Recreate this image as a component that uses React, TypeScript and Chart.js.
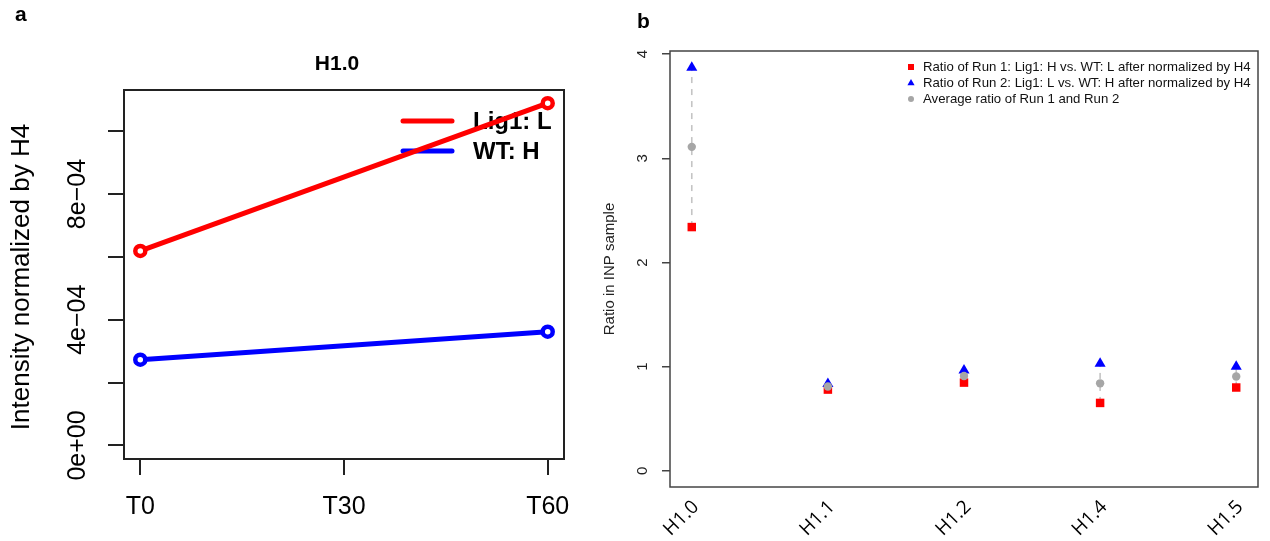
import React, { useEffect, useRef } from 'react';
import { Chart, registerables } from 'chart.js';

Chart.register(...registerables);

// ---------- Panel a data ----------
const timeLabels = ['T0', 'T30', 'T60'];
const timeValues = [0, 30, 60];
const lig1L: (number | null)[] = [6.19e-4, null, 10.89e-4];
const wtH: (number | null)[] = [2.73e-4, null, 3.62e-4];
const intensityTicks = [0, 2e-4, 4e-4, 6e-4, 8e-4, 10e-4];
const intensityTickLabels = ['0e+00', '', '4e\u221204', '', '8e\u221204', ''];
const legendA = ['Lig1: L', 'WT: H'];

// ---------- Panel b data ----------
const histones = ['H1.0', 'H1.1', 'H1.2', 'H1.4', 'H1.5'];
const run1 = [2.34, 0.78, 0.847, 0.652, 0.8];
const run2 = [3.87, 0.835, 0.965, 1.03, 1.0];
const avgRatio = [3.11, 0.81, 0.91, 0.84, 0.905];
const ratioTicks = [0, 1, 2, 3, 4];
const legendB = [
  'Ratio of Run 1: Lig1: H vs. WT: L after normalized by H4',
  'Ratio of Run 2: Lig1: L vs. WT: H after normalized by H4',
  'Average ratio of Run 1 and Run 2',
];

const FONT = '"Liberation Sans", Arial, Helvetica, sans-serif';
const RED = '#ff0000';
const BLUE = '#0000ff';
const GRAY = '#a6a6a6';

function toPoints(vals: (number | null)[]) {
  return timeValues
    .map((t, i) => ({ x: t, y: vals[i] }))
    .filter((p) => p.y !== null) as { x: number; y: number }[];
}

function makeA(canvas: HTMLCanvasElement) {
  const deco = {
    id: 'decoA',
    beforeDatasetsDraw(chart: any) {
      const { ctx } = chart;
      ctx.save();
      const rows = [121, 151];
      const cols = [RED, BLUE];
      rows.forEach((ry, i) => {
        ctx.strokeStyle = cols[i];
        ctx.lineWidth = 5;
        ctx.lineCap = 'round';
        ctx.beginPath();
        ctx.moveTo(403, ry);
        ctx.lineTo(452, ry);
        ctx.stroke();
        ctx.fillStyle = '#000';
        ctx.font = `bold 24px ${FONT}`;
        ctx.textAlign = 'left';
        ctx.textBaseline = 'middle';
        ctx.fillText(legendA[i], 473, ry + 1);
      });
      ctx.restore();
    },
    afterDraw(chart: any) {
      const { ctx, chartArea: a } = chart;
      const x = chart.scales.x;
      const y = chart.scales.y;
      ctx.save();
      ctx.strokeStyle = '#222';
      ctx.lineWidth = 2;
      ctx.strokeRect(a.left, a.top, a.right - a.left, a.bottom - a.top);
      ctx.fillStyle = '#000';
      ctx.font = `25px ${FONT}`;
      ctx.textAlign = 'center';
      ctx.textBaseline = 'middle';
      intensityTicks.forEach((v, i) => {
        const lab = intensityTickLabels[i];
        if (!lab) return;
        const py = y.getPixelForValue(v);
        ctx.save();
        ctx.translate(78, py);
        ctx.rotate(-Math.PI / 2);
        ctx.fillText(lab, 0, 0);
        ctx.restore();
      });
      timeValues.forEach((v, i) => {
        ctx.fillText(timeLabels[i], x.getPixelForValue(v), 507);
      });
      ctx.save();
      ctx.font = `26px ${FONT}`;
      ctx.translate(22, 277);
      ctx.rotate(-Math.PI / 2);
      ctx.fillText('Intensity normalized by H4', 0, 0);
      ctx.restore();
      ctx.font = `bold 21px ${FONT}`;
      ctx.fillText('H1.0', 337, 64);
      ctx.textAlign = 'left';
      ctx.textBaseline = 'alphabetic';
      ctx.fillText('a', 15, 21);
      ctx.restore();
    },
  };

  return new Chart(canvas, {
    type: 'line',
    data: {
      datasets: [
        {
          label: legendA[0],
          data: toPoints(lig1L),
          borderColor: RED,
          borderWidth: 5,
          pointRadius: 5,
          pointBorderWidth: 4.5,
          pointBackgroundColor: '#ffffff',
          pointBorderColor: RED,
          tension: 0,
        },
        {
          label: legendA[1],
          data: toPoints(wtH),
          borderColor: BLUE,
          borderWidth: 5,
          pointRadius: 5,
          pointBorderWidth: 4.5,
          pointBackgroundColor: '#ffffff',
          pointBorderColor: BLUE,
          tension: 0,
        },
      ],
    } as any,
    options: {
      animation: false,
      responsive: false,
      events: [],
      layout: { padding: { left: 124, right: 56, top: 90, bottom: 82 } },
      plugins: { legend: { display: false }, tooltip: { enabled: false }, title: { display: false } },
      scales: {
        x: {
          type: 'linear',
          min: -2.4,
          max: 62.4,
          afterBuildTicks: (s: any) => {
            s.ticks = timeValues.map((v) => ({ value: v }));
          },
          afterFit: (s: any) => {
            s.height = 0;
          },
          grid: { drawOnChartArea: false, drawTicks: true, tickLength: 16, color: '#222', lineWidth: 2 },
          border: { display: false },
          ticks: { display: false },
        },
        y: {
          type: 'linear',
          min: -0.43e-4,
          max: 11.31e-4,
          afterBuildTicks: (s: any) => {
            s.ticks = intensityTicks.map((v) => ({ value: v }));
          },
          afterFit: (s: any) => {
            s.width = 0;
          },
          grid: { drawOnChartArea: false, drawTicks: true, tickLength: 16, color: '#222', lineWidth: 2 },
          border: { display: false },
          ticks: { display: false },
        },
      },
    } as any,
    plugins: [deco],
  });
}

function makeB(canvas: HTMLCanvasElement) {
  const deco = {
    id: 'decoB',
    afterDraw(chart: any) {
      const { ctx, chartArea: a } = chart;
      const x = chart.scales.x;
      const y = chart.scales.y;
      ctx.save();
      ctx.strokeStyle = '#444';
      ctx.lineWidth = 1.5;
      ctx.strokeRect(a.left, a.top, a.right - a.left, a.bottom - a.top);
      ctx.fillStyle = '#222';
      ctx.font = `15px ${FONT}`;
      ctx.textAlign = 'center';
      ctx.textBaseline = 'middle';
      ratioTicks.forEach((v) => {
        ctx.save();
        ctx.translate(53, y.getPixelForValue(v));
        ctx.rotate(-Math.PI / 2);
        ctx.fillText(String(v), 0, 0);
        ctx.restore();
      });
      ctx.save();
      ctx.translate(20, 269);
      ctx.rotate(-Math.PI / 2);
      ctx.fillText('Ratio in INP sample', 0, 0);
      ctx.restore();
      // x labels
      ctx.fillStyle = '#000';
      ctx.font = `19px "Open Sans", ${FONT}`;
      ctx.textAlign = 'right';
      histones.forEach((h, i) => {
        ctx.save();
        ctx.translate(x.getPixelForValue(i) + 4, 504);
        ctx.rotate(-Math.PI / 4);
        ctx.fillText(h, 0, 0);
        ctx.restore();
      });
      // legend
      const mx = 321;
      const tx = 333;
      const rows = [67, 83, 99];
      ctx.fillStyle = RED;
      ctx.fillRect(mx - 3, rows[0] - 3, 6, 6);
      ctx.fillStyle = BLUE;
      ctx.beginPath();
      ctx.moveTo(mx, rows[1] - 4);
      ctx.lineTo(mx + 3.6, rows[1] + 2.2);
      ctx.lineTo(mx - 3.6, rows[1] + 2.2);
      ctx.closePath();
      ctx.fill();
      ctx.fillStyle = GRAY;
      ctx.beginPath();
      ctx.arc(mx, rows[2], 3, 0, Math.PI * 2);
      ctx.fill();
      ctx.fillStyle = '#111';
      ctx.font = `13.2px ${FONT}`;
      ctx.textAlign = 'left';
      legendB.forEach((t, i) => ctx.fillText(t, tx, rows[i] + 0.5));
      // panel letter
      ctx.fillStyle = '#000';
      ctx.font = `bold 21px ${FONT}`;
      ctx.textBaseline = 'alphabetic';
      ctx.fillText('b', 47, 28);
      ctx.restore();
    },
  };

  const dashed = histones.map((h, i) => ({
    type: 'scatter',
    label: 'range ' + h,
    data: [
      { x: i, y: run1[i] },
      { x: i, y: run2[i] },
    ],
    showLine: true,
    borderColor: '#c4c4c4',
    borderWidth: 1.6,
    borderDash: [6, 6],
    pointRadius: 0,
    order: 10,
  }));

  return new Chart(canvas, {
    type: 'scatter',
    data: {
      datasets: [
        {
          label: legendB[2],
          data: avgRatio.map((v, i) => ({ x: i, y: v })),
          pointStyle: 'circle',
          pointRadius: 4.2,
          pointBackgroundColor: GRAY,
          pointBorderColor: GRAY,
          pointBorderWidth: 0,
          order: 1,
        },
        {
          label: legendB[1],
          data: run2.map((v, i) => ({ x: i, y: v })),
          pointStyle: 'triangle',
          pointRadius: 6.4,
          pointBackgroundColor: BLUE,
          pointBorderColor: BLUE,
          pointBorderWidth: 0,
          order: 2,
        },
        {
          label: legendB[0],
          data: run1.map((v, i) => ({ x: i, y: v })),
          pointStyle: 'rect',
          pointRadius: 6,
          pointBackgroundColor: RED,
          pointBorderColor: RED,
          pointBorderWidth: 0,
          order: 3,
        },
        ...dashed,
      ],
    } as any,
    options: {
      animation: false,
      responsive: false,
      events: [],
      layout: { padding: { left: 80, right: 12, top: 51, bottom: 54 } },
      plugins: { legend: { display: false }, tooltip: { enabled: false }, title: { display: false } },
      scales: {
        x: {
          type: 'linear',
          min: -0.16,
          max: 4.16,
          afterBuildTicks: (s: any) => {
            s.ticks = histones.map((_, i) => ({ value: i }));
          },
          afterFit: (s: any) => {
            s.height = 0;
          },
          grid: { display: false },
          border: { display: false },
          ticks: { display: false },
        },
        y: {
          type: 'linear',
          min: -0.155,
          max: 4.03,
          afterBuildTicks: (s: any) => {
            s.ticks = ratioTicks.map((v) => ({ value: v }));
          },
          afterFit: (s: any) => {
            s.width = 0;
          },
          grid: { drawOnChartArea: false, drawTicks: true, tickLength: 8, color: '#444', lineWidth: 1.5 },
          border: { display: false },
          ticks: { display: false },
        },
      },
    } as any,
    plugins: [deco],
  });
}

export default function App() {
  const refA = useRef<HTMLCanvasElement>(null);
  const refB = useRef<HTMLCanvasElement>(null);
  useEffect(() => {
    const ca = makeA(refA.current!);
    const cb = makeB(refB.current!);
    return () => {
      ca.destroy();
      cb.destroy();
    };
  }, []);
  return (
    <div style={{ position: 'fixed', left: 0, top: 0, width: 1270, height: 541, background: '#ffffff' }}>
      <canvas ref={refA} width={620} height={541} style={{ position: 'absolute', left: 0, top: 0 }} />
      <canvas ref={refB} width={680} height={541} style={{ position: 'absolute', left: 590, top: 0 }} />
    </div>
  );
}
